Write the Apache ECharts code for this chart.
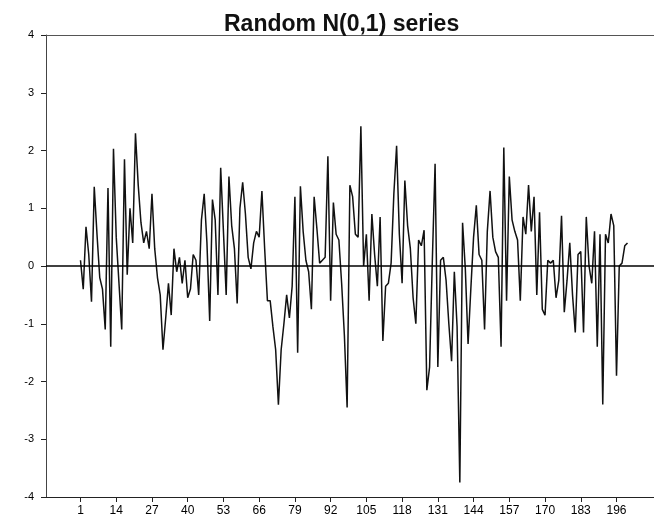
<!DOCTYPE html>
<html>
<head>
<meta charset="utf-8">
<title>Random N(0,1) series</title>
<script src="https://cdn.jsdelivr.net/npm/echarts@6/dist/echarts.min.js"></script>
<style>
  html, body { margin: 0; padding: 0; background: #fff; }
  #chart { width: 654px; height: 528px; }
</style>
</head>
<body>
<div id="chart"></div>
<script>
// Chart title
const chartTitle = 'Random N(0,1) series';

// Observed values of the simulated white-noise series, periods 1..200
const seriesValues = [
  0.1, -0.4, 0.68, 0.2, -0.62, 1.37, 0.55, -0.2, -0.4, -1.1,
  1.35, -1.4, 2.03, 0.5, -0.3, -1.1, 1.85, -0.15, 1.0, 0.4,
  2.3, 1.4, 0.75, 0.4, 0.6, 0.3, 1.25, 0.3, -0.2, -0.5,
  -1.45, -0.9, -0.3, -0.85, 0.3, -0.1, 0.15, -0.3, 0.1, -0.55,
  -0.4, 0.2, 0.1, -0.5, 0.8, 1.25, 0.4, -0.95, 1.15, 0.8,
  -0.5, 1.7, 0.6, -0.5, 1.55, 0.7, 0.3, -0.65, 1.0, 1.45,
  0.9, 0.15, -0.05, 0.4, 0.6, 0.5, 1.3, 0.3, -0.6, -0.6,
  -1.05, -1.45, -2.4, -1.45, -1.0, -0.5, -0.9, -0.35, 1.2, -1.5,
  1.38, 0.6, 0.1, -0.1, -0.75, 1.2, 0.65, 0.05, 0.1, 0.15,
  1.9, -0.6, 1.1, 0.55, 0.45, -0.3, -1.2, -2.45, 1.4, 1.2,
  0.55, 0.5, 2.42, 0.0, 0.55, -0.6, 0.9, 0.2, -0.35, 0.85,
  -1.3, -0.35, -0.3, 0.05, 1.25, 2.08, 0.55, -0.3, 1.48, 0.7,
  0.3, -0.55, -1.0, 0.45, 0.35, 0.62, -2.15, -1.75, 0.1, 1.77,
  -1.75, 0.1, 0.15, -0.25, -1.0, -1.65, -0.1, -1.05, -3.75, 0.75,
  -0.05, -1.35, -0.4, 0.5, 1.05, 0.2, 0.1, -1.1, 0.6, 1.3,
  0.5, 0.25, 0.15, -1.4, 2.05, -0.6, 1.55, 0.8, 0.6, 0.45,
  -0.6, 0.85, 0.55, 1.4, 0.6, 1.2, -0.5, 0.93, -0.75, -0.85,
  0.1, 0.05, 0.1, -0.55, -0.25, 0.87, -0.8, -0.25, 0.4, -0.5,
  -1.15, 0.2, 0.25, -1.15, 0.85, 0.0, -0.3, 0.6, -1.4, 0.55,
  -2.4, 0.55, 0.4, 0.9, 0.7, -1.9, 0.0, 0.05, 0.35, 0.4
];

// Period labels printed along the bottom axis
const xTickLabels = [1, 14, 27, 40, 53, 66, 79, 92, 105, 118, 131, 144, 157, 170, 183, 196];

// Value range and step of the vertical axis
const yMin = -4;
const yMax = 4;
const yStep = 1;

const points = seriesValues.map((v, i) => [i + 1, v]);

const chart = echarts.init(document.getElementById('chart'), null, { renderer: 'canvas' });

chart.setOption({
  animation: false,
  backgroundColor: '#ffffff',
  title: {
    text: chartTitle,
    left: 219,
    top: 8,
    textStyle: {
      fontFamily: 'Liberation Sans, Arial, sans-serif',
      fontWeight: 'bold',
      fontSize: 23,
      color: '#111'
    }
  },
  grid: {
    left: 46,
    right: 0,
    top: 35,
    bottom: 31,
    containLabel: false
  },
  xAxis: {
    type: 'value',
    min: -11.55,
    max: 209.64,
    axisLine: { show: true, onZero: false, lineStyle: { color: '#222', width: 1 } },
    axisTick: {
      show: true,
      customValues: xTickLabels,
      length: 5,
      lineStyle: { color: '#222', width: 1 }
    },
    axisLabel: {
      customValues: xTickLabels,
      color: '#000',
      fontFamily: 'Liberation Sans, Arial, sans-serif',
      fontSize: 12,
      margin: 8
    },
    splitLine: { show: false }
  },
  yAxis: {
    type: 'value',
    min: yMin,
    max: yMax,
    interval: yStep,
    axisLine: { show: true, onZero: false, lineStyle: { color: '#444', width: 1 } },
    axisTick: { show: true, length: 5, lineStyle: { color: '#222', width: 1 } },
    axisLabel: {
      color: '#000',
      fontFamily: 'Liberation Sans, Arial, sans-serif',
      fontSize: 11,
      margin: 12
    },
    splitLine: { show: false }
  },
  series: [
    {
      type: 'line',
      data: points,
      showSymbol: false,
      symbol: 'none',
      lineStyle: { color: '#111', width: 1.5 },
      silent: true,
      z: 3,
      markLine: {
        silent: true,
        symbol: ['none', 'none'],
        label: { show: false },
        animation: false,
        data: [
          { yAxis: 0, lineStyle: { color: '#000', width: 1.6, type: 'solid' } },
          { yAxis: yMax, lineStyle: { color: '#555', width: 1, type: 'solid' } }
        ]
      }
    }
  ]
});
</script>
</body>
</html>
